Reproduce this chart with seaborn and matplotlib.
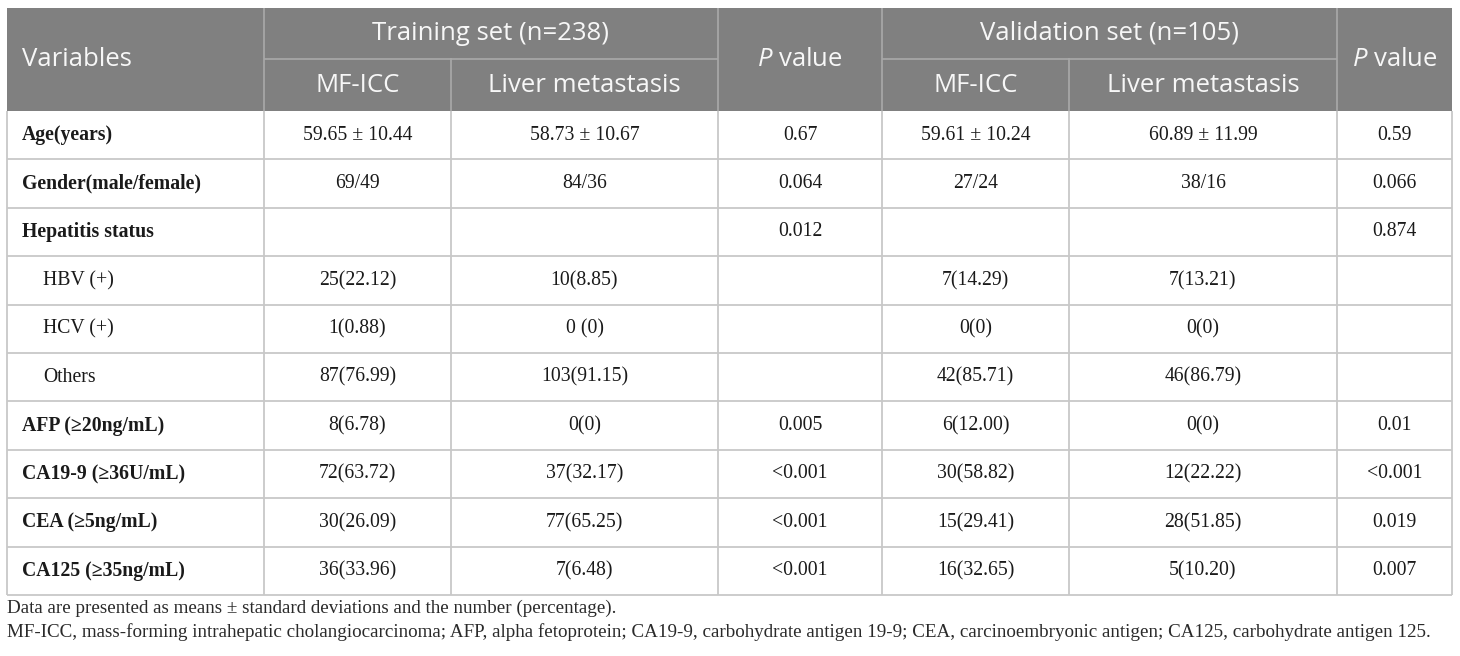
import numpy as np
import pandas as pd
import seaborn as sns
import matplotlib.pyplot as plt

# table content
variables = ["Age(years)", "Gender(male/female)", "Hepatitis status", "HBV (+)", "HCV (+)",
             "Others", "AFP (\u226520ng/mL)", "CA19-9 (\u226536U/mL)", "CEA (\u22655ng/mL)",
             "CA125 (\u226535ng/mL)"]
is_sub = [False, False, False, True, True, True, False, False, False, False]
train_mf = ["59.65 \u00b1 10.44", "69/49", "", "25(22.12)", "1(0.88)", "87(76.99)",
            "8(6.78)", "72(63.72)", "30(26.09)", "36(33.96)"]
train_lm = ["58.73 \u00b1 10.67", "84/36", "", "10(8.85)", "0 (0)", "103(91.15)",
            "0(0)", "37(32.17)", "77(65.25)", "7(6.48)"]
train_p = ["0.67", "0.064", "0.012", "", "", "", "0.005", "<0.001", "<0.001", "<0.001"]
val_mf = ["59.61 \u00b1 10.24", "27/24", "", "7(14.29)", "0(0)", "42(85.71)",
          "6(12.00)", "30(58.82)", "15(29.41)", "16(32.65)"]
val_lm = ["60.89 \u00b1 11.99", "38/16", "", "7(13.21)", "0(0)", "46(86.79)",
          "0(0)", "12(22.22)", "28(51.85)", "5(10.20)"]
val_p = ["0.59", "0.066", "0.874", "", "", "", "0.01", "<0.001", "0.019", "0.007"]

groups = ["Training set (n=238)", "Validation set (n=105)"]
subheads = ["MF-ICC", "Liver metastasis"]
notes = ["Data are presented as means \u00b1 standard deviations and the number (percentage).",
         "MF-ICC, mass-forming intrahepatic cholangiocarcinoma; AFP, alpha fetoprotein; "
         "CA19-9, carbohydrate antigen 19-9; CEA, carcinoembryonic antigen; CA125, "
         "carbohydrate antigen 125."]

table = pd.DataFrame({"var": variables, "tmf": train_mf, "tlm": train_lm, "tp": train_p,
                      "vmf": val_mf, "vlm": val_lm, "vp": val_p})

sns.set_theme(style="white")
plt.rcParams['mathtext.fontset'] = 'custom'
plt.rcParams['mathtext.it'] = 'Open Sans:italic'
plt.rcParams['mathtext.rm'] = 'Open Sans'

# layout in pixels
xe = [7, 264, 451, 718, 882, 1069, 1337, 1452]
y_top, y_mid, y_head = 8, 59, 111
row_h = 48.4
ye = [y_head + row_h * i for i in range(len(table) + 1)]

fig = plt.figure(figsize=(14.6, 6.56), dpi=100)
ax = fig.add_axes([0, 0, 1, 1])
ax.set_xlim(0, 1460)
ax.set_ylim(656, 0)
ax.axis("off")

head_bg = "#808080"
head_line = "#a9a9a9"
grid = "#c8c8c8"
head_fc = "#f7f7f7"
body_c = "#1a1a1a"
hfont = dict(family="Open Sans", fontsize=18.5, color=head_fc)
bsize = 14.2

# header block
ax.add_patch(plt.Rectangle((xe[0], y_top), xe[-1] - xe[0], y_head - y_top,
                           facecolor=head_bg, edgecolor="none"))
ax.vlines(xe[1:-1], y_top, y_head, color=head_line, lw=1.2)
ax.hlines(y_mid, xe[1], xe[3], color=head_line, lw=1.2)
ax.hlines(y_mid, xe[4], xe[6], color=head_line, lw=1.2)
# mask vlines crossing group header cells
for a, b in [(1, 3), (4, 6)]:
    ax.add_patch(plt.Rectangle((xe[a] + 1, y_top), xe[b] - xe[a] - 2, y_mid - y_top - 0.6,
                               facecolor=head_bg, edgecolor="none", zorder=3))

ax.text(22, (y_top + y_head) / 2, "Variables", ha="left", va="center", zorder=4, **hfont)
for g, a, b in zip(groups, [1, 4], [3, 6]):
    ax.text((xe[a] + xe[b]) / 2, (y_top + y_mid) / 2, g, ha="center", va="center",
            zorder=4, **hfont)
    for k, s in enumerate(subheads):
        ax.text((xe[a + k] + xe[a + k + 1]) / 2, (y_mid + y_head) / 2, s,
                ha="center", va="center", zorder=4, **hfont)
for c in [3, 6]:
    ax.text((xe[c] + xe[c + 1]) / 2, (y_top + y_head) / 2, r"$\it{P}$ value",
            ha="center", va="center", zorder=4, **hfont)

# body grid
ax.hlines(ye[1:], xe[0], xe[-1], color=grid, lw=1.3)
ax.vlines(xe, y_head, ye[-1], color=grid, lw=1.3)

cols = ["tmf", "tlm", "tp", "vmf", "vlm", "vp"]
for i, row in table.iterrows():
    yc = (ye[i] + ye[i + 1]) / 2
    if is_sub[i]:
        ax.text(43, yc, row["var"], ha="left", va="center", family="Liberation Serif",
                fontsize=bsize, color=body_c)
    else:
        ax.text(22, yc, row["var"], ha="left", va="center", family="Liberation Serif",
                fontsize=bsize, fontweight="bold", color=body_c)
    for j, c in enumerate(cols):
        ax.text((xe[j + 1] + xe[j + 2]) / 2, yc, row[c], ha="center", va="center",
                family="Liberation Serif", fontsize=bsize, color=body_c)

for k, n in enumerate(notes):
    ax.text(7, 608 + 24 * k, n, ha="left", va="center", family="Liberation Serif",
            fontsize=13.7, color="#2a2a2a")

fig.savefig("out.png", dpi=100)
